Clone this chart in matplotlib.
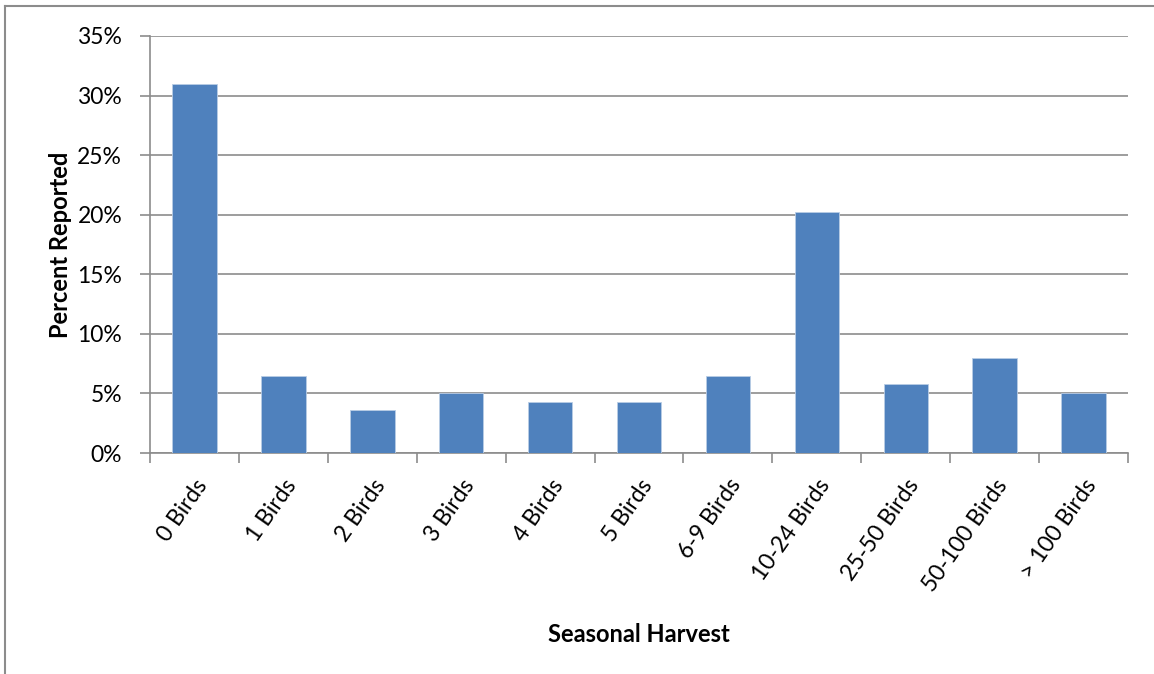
import matplotlib.pyplot as plt
from matplotlib.lines import Line2D
from matplotlib.ticker import FuncFormatter, MultipleLocator
import numpy as np

categories = ['0 Birds', '1 Birds', '2 Birds', '3 Birds', '4 Birds', '5 Birds',
              '6-9 Birds', '10-24 Birds', '25-50 Birds', '50-100 Birds', '> 100 Birds']
percent = [31.0, 6.5, 3.6, 5.0, 4.3, 4.3, 6.5, 20.2, 5.8, 7.95, 5.0]

plt.rcParams['font.family'] = ['Lato', 'DejaVu Sans']

fig = plt.figure(figsize=(11.54, 6.74), dpi=100)
ax = fig.add_axes([150 / 1154, 1 - 453 / 674, (1128 - 150) / 1154, (453 - 36) / 674])

x = np.arange(len(categories))
ax.bar(x, percent, width=0.5, color='#4F81BD', edgecolor='#B9CDE5', linewidth=0.6, zorder=3)

ax.set_xlim(-0.5, len(categories) - 0.5)
ax.set_ylim(0, 35)
ax.yaxis.set_major_locator(MultipleLocator(5))
ax.yaxis.set_major_formatter(FuncFormatter(lambda v, p: '%d%%' % v))
ax.grid(axis='y', color='#8C8C8C', linewidth=1.2, zorder=0)

for s in ['top', 'right']:
    ax.spines[s].set_visible(False)
for s in ['left', 'bottom']:
    ax.spines[s].set_color('#8C8C8C')
    ax.spines[s].set_linewidth(1.2)

# ticks between categories on x, outside ticks on y
ax.set_xticks(np.arange(-0.5, len(categories), 1.0))
ax.set_xticklabels([])
ax.set_xticks(x, minor=True)
ax.set_xticklabels(categories, minor=True, rotation=55, ha='right', va='top',
                   rotation_mode='anchor', fontsize=16.5)
ax.tick_params(axis='x', which='major', length=7, width=1.2, color='#8C8C8C')
ax.tick_params(axis='x', which='minor', length=0, pad=16)
ax.tick_params(axis='y', length=7, width=1.2, color='#8C8C8C', labelsize=16.5, pad=13)

ax.set_ylabel('Percent Reported', fontsize=17, fontweight='bold', labelpad=4)
ax.set_xlabel('Seasonal Harvest', fontsize=17, fontweight='bold', labelpad=20)

# chart area border (only top and left visible in the crop)
fig.add_artist(Line2D([5 / 1154, 1], [1 - 5.5 / 674, 1 - 5.5 / 674],
                      transform=fig.transFigure, color='#8C8C8C', linewidth=1.5))
fig.add_artist(Line2D([4.5 / 1154, 4.5 / 1154], [0, 1 - 5.5 / 674],
                      transform=fig.transFigure, color='#8C8C8C', linewidth=1.5))

fig.savefig('out.png', dpi=100)
